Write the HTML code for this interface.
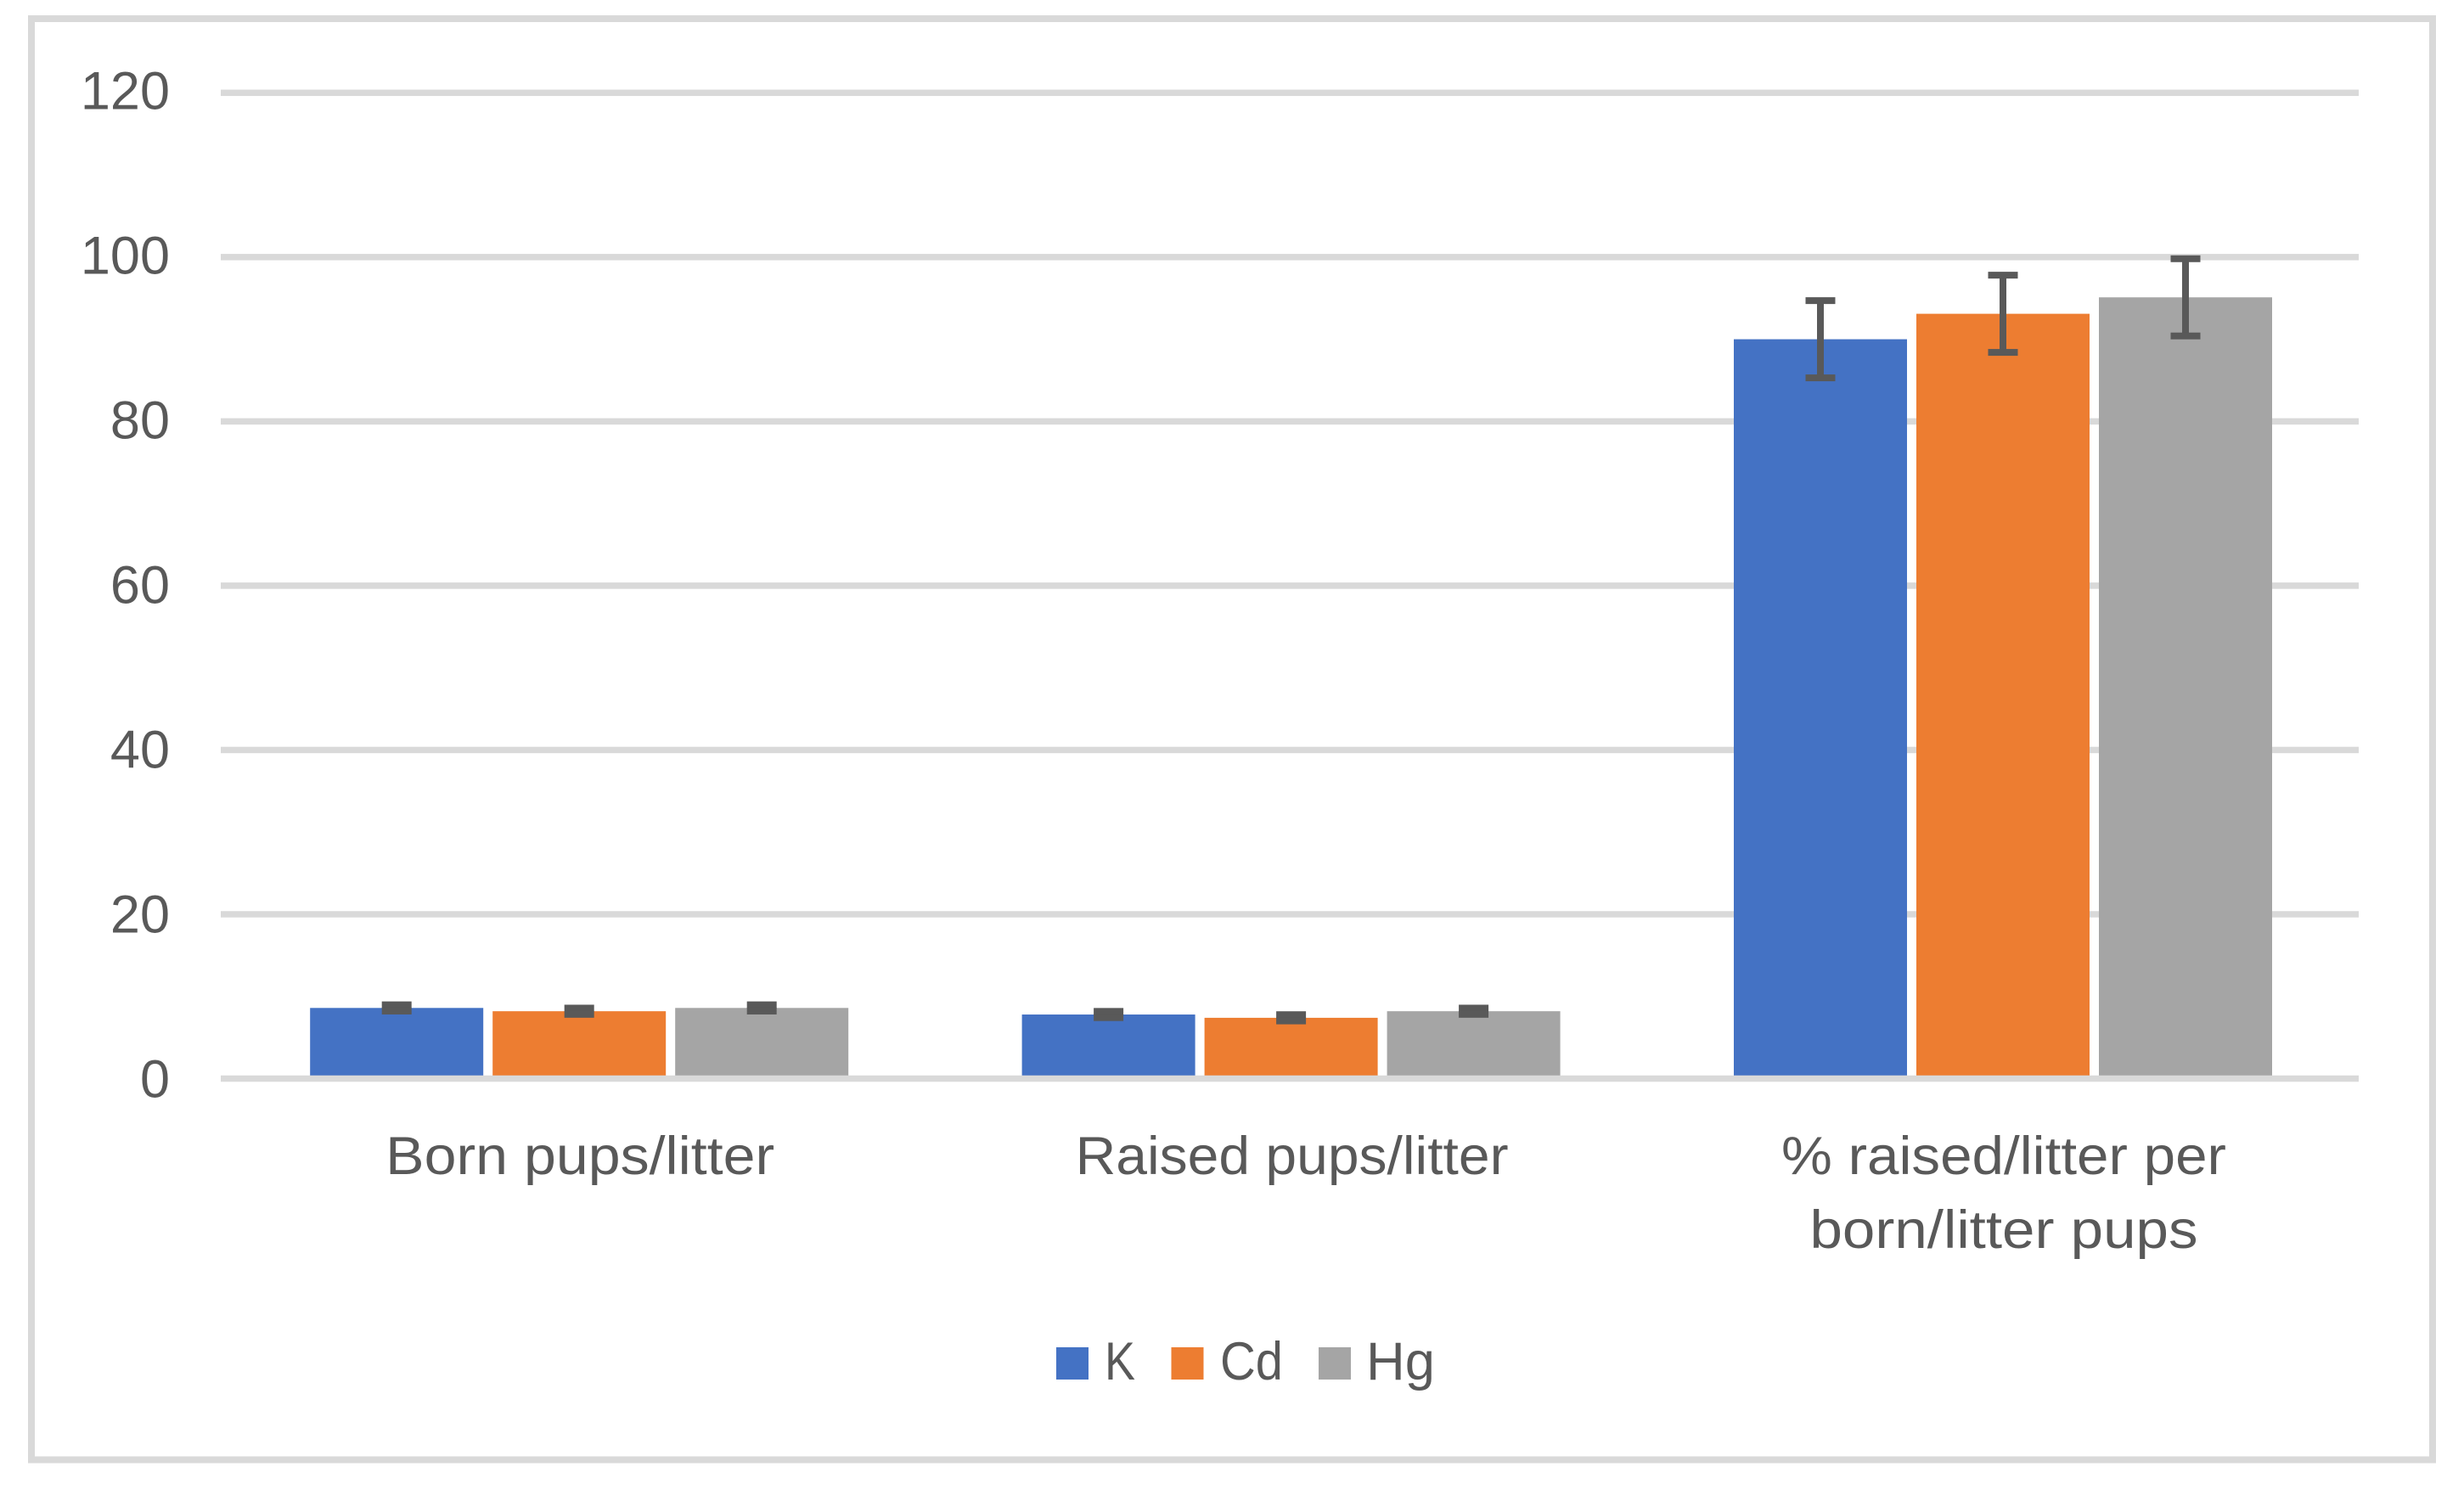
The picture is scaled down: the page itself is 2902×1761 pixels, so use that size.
<!DOCTYPE html>
<html lang="en">
<head>
<meta charset="utf-8">
<title>Pups per litter chart</title>
<style>
  html, body { margin: 0; padding: 0; background: #ffffff; }
  body { width: 2902px; height: 1761px; overflow: hidden; }
  svg { display: block; }
  text { font-family: "Liberation Sans", sans-serif; font-size: 63px; fill: #595959; }
</style>
</head>
<body>
<svg id="chart" xmlns="http://www.w3.org/2000/svg" width="2902" height="1761" viewBox="0 0 2902 1761">
  <rect x="0" y="0" width="2902" height="1761" fill="#ffffff"/>
  <rect x="37" y="22" width="2828" height="1697.5" fill="#ffffff" stroke="#d9d9d9" stroke-width="8"/>
  <g id="grid"></g>
  <g id="marks"></g>
  <g id="axis"></g>
  <g id="errors"></g>
  <g>
    <g>
      <rect x="1244" y="1587" width="38" height="38" fill="#4472c4"/>
      <text x="1301" y="1625" textLength="36" lengthAdjust="spacingAndGlyphs">K</text>
    </g>
    <g>
      <rect x="1379.5" y="1587" width="38" height="38" fill="#ed7d31"/>
      <text x="1437" y="1625" textLength="74" lengthAdjust="spacingAndGlyphs">Cd</text>
    </g>
    <g>
      <rect x="1553" y="1587" width="38" height="38" fill="#a5a5a5"/>
      <text x="1609" y="1625" textLength="81" lengthAdjust="spacingAndGlyphs">Hg</text>
    </g>
  </g>
</svg>
<script>
// ---- chart data ----
const categories = [["Born pups/litter"], ["Raised pups/litter"], ["% raised/litter per", "born/litter pups"]];
const seriesNames = ["K", "Cd", "Hg"];
const kValues = [8.6, 7.8, 90];
const cdValues = [8.2, 7.4, 93.1];
const hgValues = [8.6, 8.2, 95.1];
const kErrors = [0.38, 0.38, 4.7];
const cdErrors = [0.38, 0.38, 4.7];
const hgErrors = [0.38, 0.38, 4.7];
const yTicks = [0, 20, 40, 60, 80, 100, 120];

// ---- layout & style ----
const seriesColors = ["#4472c4", "#ed7d31", "#a5a5a5"];
const allValues = [kValues, cdValues, hgValues];
const allErrors = [kErrors, cdErrors, hgErrors];
const labelFit = { "Born pups/litter": 458, "Raised pups/litter": 510, "% raised/litter per": 524, "born/litter pups": 457 };
const plot = { left: 260, right: 2778, bandLeft: 263, bandWidth: 838.4, zeroY: 1270.5, topY: 109.3, maxV: 120 };
const barW = 204, barPitch = 215, capW = 35, lineW = 8, gridW = 7.5;
const SVGNS = "http://www.w3.org/2000/svg";

function y(v) { return plot.zeroY - (v / plot.maxV) * (plot.zeroY - plot.topY); }
function bandCenter(i) { return plot.bandLeft + plot.bandWidth * (i + 0.5); }
function barCenter(c, s) { return bandCenter(c) + (s - 1) * barPitch; }
function make(tag, attrs, parent) {
  const e = document.createElementNS(SVGNS, tag);
  for (const k in attrs) e.setAttribute(k, attrs[k]);
  parent.appendChild(e);
  return e;
}

const grid = document.getElementById("grid");
const marks = document.getElementById("marks");
const axis = document.getElementById("axis");
const errors = document.getElementById("errors");

yTicks.forEach(function (t) {
  const parent = t === 0 ? axis : grid;
  const line = make("rect", { x: plot.left, y: y(t) - gridW / 2, width: plot.right - plot.left, height: gridW, fill: "#d9d9d9" }, parent);
  
  
  const label = make("text", { x: 200, y: y(t) + 22 - t * 0.025, "text-anchor": "end" }, axis);
  label.textContent = String(t);
  
  
});

categories.forEach(function (lines, c) {
  lines.forEach(function (txt, l) {
    const w = labelFit[txt];
    const label = make("text", { x: bandCenter(c) + 1 - w / 2, y: 1383 + l * 87 }, axis);
    if (w) {
      label.setAttribute("textLength", w);
      label.setAttribute("lengthAdjust", "spacingAndGlyphs");
    }
    label.textContent = txt;
    
    
  });
});

allValues.forEach(function (vals, s) {
  vals.forEach(function (v, c) {
    const cx = barCenter(c, s);
    const bar = make("rect", { x: cx - barW / 2, y: y(v), width: barW, height: plot.zeroY - y(v), fill: seriesColors[s] }, marks);
    
    

    const err = allErrors[s][c];
    const hi = y(v + err), lo = y(v - err);
    const stem = make("rect", { x: cx - lineW / 2, y: hi, width: lineW, height: lo - hi, fill: "#595959" }, errors);
    
    
    const capTop = make("rect", { x: cx - capW / 2, y: hi - lineW / 2, width: capW, height: lineW, fill: "#595959" }, errors);
    
    
    const capBottom = make("rect", { x: cx - capW / 2, y: lo - lineW / 2, width: capW, height: lineW, fill: "#595959" }, errors);
    
    
  });
});
</script>
</body>
</html>
